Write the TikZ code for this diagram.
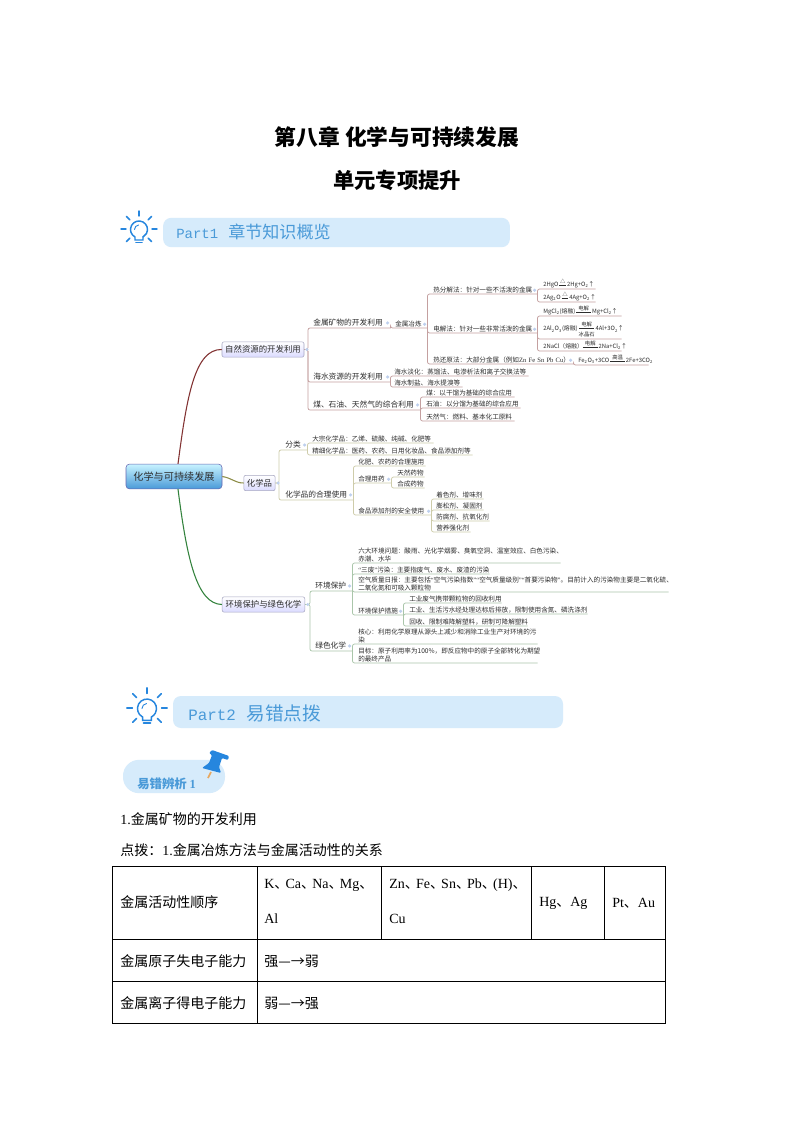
\documentclass[tikz,border=0pt]{standalone}
\usepackage{amsmath}
\usepackage{fontspec}
\setmainfont{Noto Sans CJK SC}
\newfontfamily\latinfont{Liberation Serif}
\newfontfamily\monofont{Liberation Mono}
\usepackage{tikz}
\definecolor{bannerblue}{RGB}{214, 235, 251}
\definecolor{accentblue}{RGB}{74, 154, 216}
\definecolor{iconblue}{RGB}{38, 134, 222}
\definecolor{pinorange}{RGB}{232, 168, 96}
\definecolor{darktext}{RGB}{45, 45, 45}
\definecolor{dotblue}{RGB}{190, 208, 238}
\definecolor{lineroot}{RGB}{130, 50, 50}
\definecolor{lineolive}{RGB}{140, 140, 70}
\definecolor{linegreen}{RGB}{50, 130, 60}
\definecolor{wirered}{RGB}{196, 160, 160}
\definecolor{wireolive}{RGB}{206, 204, 170}
\definecolor{wiregreen}{RGB}{170, 198, 170}
\newcommand{\leaffont}{\fontsize{4.95}{6}\selectfont}
\newcommand{\eqfont}{\fontsize{4.4}{5.4}\selectfont}
\newcommand{\midfont}{\fontsize{5.8}{7}\selectfont}
\newcommand{\smallfont}{\fontsize{4}{4.4}\selectfont}
\newcommand{\la}[1]{{\latinfont #1}}
\newcommand{\dun}{、\hspace{-.2em}}
% reaction condition over a bar, and over and under a bar
\newcommand{\condup}[2]{$\overset{\hbox{\smallfont #2}}{\rule[.2ex]{#1}{.6pt}}$}
\newcommand{\cond}[3]{$\underset{\hbox{\smallfont #3}}{\overset{\hbox{\smallfont #2}}{\rule[.6ex]{#1}{.6pt}}}$}
% light bulb icon
\newcommand{\bulb}[3]{
	\begin{scope}[shift={(#1,#2)},scale=#3,iconblue,line width=1.1pt,line cap=round]
		\foreach \a in {0,45,135,180,225,270,315} {
			\draw (\a:13) -- (\a:18);
		}
		\draw (-4,8) arc (118:422:8.5) -- (4,11) -- (-4,11) -- cycle;
		\draw[line width=.7pt] (-4.5,0.5) arc (180:265:4.5);
		\draw[line width=1.4pt] (-3,13.5) -- (3,13.5);
	\end{scope}
}
\tikzset{
	leaf/.style={anchor=south west, inner xsep=0pt, inner ysep=.3pt, text width=#1*.75pt, align=left, font=\leaffont, text=darktext},
	midleaf/.style={leaf=#1, font=\midfont, inner ysep=.9pt},
	eqleaf/.style={leaf=#1, font=\eqfont, inner ysep=.9pt},
	rootbox/.style={draw=black!50!blue!60, rounded corners=2.5pt, top color=blue!22!cyan!22, bottom color=accentblue, font=\fontsize{7.6}{9}\selectfont, text=darktext, minimum width=72pt, minimum height=18.5pt, inner sep=0pt},
	branchbox/.style={draw=blue!30!black!35, rounded corners=1.5pt, top color=white, bottom color=blue!14, font=\fontsize{6.3}{7}\selectfont, text=darktext, minimum height=11.5pt, inner sep=0pt},
	bannerbox/.style={fill=bannerblue, rounded corners=6pt, inner sep=0pt},
	bodytext/.style={anchor=west, inner sep=0pt, font=\fontsize{10.5}{12}\selectfont, text=black},
	redwire/.style={draw=wirered, line width=.55pt, rounded corners=1.5pt},
	olivewire/.style={draw=wireolive, line width=.55pt, rounded corners=1.5pt},
	greenwire/.style={draw=wiregreen, line width=.55pt, rounded corners=1.5pt}
}

\begin{document}
\begin{tikzpicture}[x=.75pt,y=-.75pt]
	\useasboundingbox[fill=white] (0,0) rectangle (794,1123);

	% Titulos
	\node[font=\fontsize{16.3}{18}\bfseries\selectfont, text=black] (titulo) at (397,137) {第八章 化学与可持续发展};
	\node[font=\fontsize{16}{18}\bfseries\selectfont, text=black] (subtitulo) at (397,180) {单元专项提升};

	% Part 1
	\bulb{139}{229}{1}
	\node[bannerbox, minimum width=260pt, minimum height=22pt] (bannerone) at (336.5,232.5) {};
	\node[anchor=west, inner sep=0pt, text=accentblue, font=\fontsize{12.8}{14}\selectfont] (partone) at (176,232) {{\fontsize{10.5}{12}\monofont Part1}\hspace{7.5pt}章节知识概览};

	% Mapa mental
	\node[rootbox] (raiz) at (174,476.5) {化学与可持续发展};
	\node[branchbox, minimum width=61.5pt] (ziran) at (263,349.5) {自然资源的开发利用};
	\node[branchbox, minimum width=23.5pt] (huaxuepin) at (259.5,483) {化学品};
	\node[branchbox, minimum width=62pt] (huanjing) at (263.5,604.5) {环境保护与绿色化学};
	\draw[lineroot, line width=.8pt] (raiz.north) ++(4,0) .. controls (187,395) and (195,349) .. (ziran.west);
	\draw[lineolive, line width=.8pt] (raiz.east) .. controls (232,478) and (235,483) .. (huaxuepin.west);
	\draw[linegreen, line width=.8pt] (raiz.south) ++(4,0) .. controls (187,560) and (197,604) .. (huanjing.west);
	\coordinate (ziranout) at (308,349.5);
	\coordinate (huaxueout) at (279,483);
	\coordinate (huanjingout) at (310,604.5);

	% Rama 1
	\node[midleaf=77] (jinshu) at (313,328) {金属矿物的开发利用};
	\node[midleaf=77] (haishui) at (313,382) {海水资源的开发利用};
	\node[midleaf=107] (zonghe) at (313,410) {煤、石油、天然气的综合利用};
	\node[leaf=32] (yelian) at (395,328) {金属冶炼};
	\node[leaf=104] (refen) at (433,294) {热分解法：针对一些不活泼的金属};
	\node[leaf=104] (dianjie) at (433,333) {电解法：针对一些非常活泼的金属};
	\node[leaf=140] (huanyuan) at (433,364) {\mbox{热还原法：大部分金属（例如\la{Zn~Fe~Sn~Pb~Cu}）\hspace{-.5em}}};
	\node[eqleaf=52] (eqhg) at (543,289) {2HgO\,\condup{5pt}{△}\,2Hg+O\textsubscript{2}↑};
	\node[eqleaf=52] (eqag) at (543,302) {2Ag\textsubscript{2}O\,\condup{5pt}{△}\,4Ag+O\textsubscript{2}↑};
	\node[eqleaf=78] (eqmg) at (543,316) {MgCl\textsubscript{2}(熔融)\,\condup{11pt}{电解}\,Mg+Cl\textsubscript{2}↑};
	\node[eqleaf=78] (eqal) at (543,339) {2Al\textsubscript{2}O\textsubscript{3}(熔融)\,\cond{11pt}{电解}{冰晶石}\,4Al+3O\textsubscript{2}↑};
	\node[eqleaf=78] (eqna) at (543,351) {2NaCl（熔融）\condup{11pt}{电解}\,2Na+Cl\textsubscript{2}↑};
	\node[eqleaf=70] (eqfe) at (578,365) {Fe\textsubscript{2}O\textsubscript{3}+3CO\,\condup{11pt}{高温}\,2Fe+3CO\textsubscript{2}};
	\node[leaf=134] (danhua) at (394,376) {海水淡化：蒸馏法、电渗析法和离子交换法等};
	\node[leaf=68] (zhiyan) at (394,387) {海水制盐、海水提溴等};
	\node[leaf=88] (mei) at (426,397) {煤：以干馏为基础的综合应用};
	\node[leaf=94] (shiyou) at (426,408) {石油：以分馏为基础的综合应用};
	\node[leaf=88] (tianran) at (426,421) {天然气：燃料、基本化工原料};
	\foreach \hijo in {jinshu,haishui,zonghe} {
		\draw[redwire] (ziran.east) -- (ziranout) |- (\hijo.south east);
	}
	\foreach \padre/\hijo in {jinshu/yelian,yelian/refen,yelian/dianjie,yelian/huanyuan,refen/eqhg,refen/eqag,dianjie/eqmg,dianjie/eqal,dianjie/eqna,huanyuan/eqfe,haishui/danhua,haishui/zhiyan,zonghe/mei,zonghe/shiyou,zonghe/tianran} {
		\draw[redwire] (\padre.south east) |- (\hijo.south east);
	}

	% Rama 2
	\node[midleaf=22] (fenlei) at (285,450) {分类};
	\node[midleaf=68] (heli) at (285,500) {化学品的合理使用};
	\node[leaf=121] (dazong) at (312,443) {大宗化学品：乙烯、硫酸、纯碱、化肥等};
	\node[leaf=160] (jingxi) at (312,455) {精细化学品：医药、农药、日用化妆品、食品添加剂等};
	\node[leaf=67] (huafei) at (358,466) {化肥、农药的合理施用};
	\node[leaf=33] (yongyao) at (358,483) {合理用药};
	\node[leaf=73] (shipin) at (358,515) {食品添加剂的安全使用};
	\node[leaf=27] (tianyao) at (397,477) {天然药物};
	\node[leaf=27] (heyao) at (397,488) {合成药物};
	\node[leaf=47] (zhuose) at (436,499) {着色剂、增味剂};
	\node[leaf=47] (pengsong) at (436,510) {膨松剂、凝固剂};
	\node[leaf=53] (fangfu) at (436,521) {防腐剂、抗氧化剂};
	\node[leaf=34] (yingyang) at (436,532) {营养强化剂};
	\foreach \hijo in {fenlei,heli} {
		\draw[olivewire] (huaxuepin.east) -- (huaxueout) |- (\hijo.south east);
	}
	\foreach \padre/\hijo in {fenlei/dazong,fenlei/jingxi,heli/huafei,heli/yongyao,heli/shipin,yongyao/tianyao,yongyao/heyao,shipin/zhuose,shipin/pengsong,shipin/fangfu,shipin/yingyang} {
		\draw[olivewire] (\padre.south east) |- (\hijo.south east);
	}

	% Rama 3
	\node[midleaf=37] (baohu) at (315,591) {环境保护};
	\node[midleaf=37] (lvse) at (315,651) {绿色化学};
	\node[leaf=202] (liuda) at (358,563) {六大环境问题：酸雨、光化学烟雾、臭氧空洞、温室效应、白色污染、\\赤潮、水华};
	\node[leaf=131] (sanfei) at (358,574) {\la{“}三废\la{”}污染：主要指废气、废水、废渣的污染};
	\node[leaf=310] (kongqi) at (358,592) {空气质量日报：主要包括\la{“}空气污染指数\la{”“}空气质量级别\la{”“}首要污染物\la{”}。目前计入的污染物主要是二氧化硫、\\二氧化氮和可吸入颗粒物};
	\node[leaf=45] (cuoshi) at (358,615) {环境保护措施};
	\node[leaf=92] (feiqi) at (409,603) {工业废气携带颗粒物的回收利用};
	\node[leaf=178] (wushui) at (409,614) {工业、生活污水经处理达标后排放，限制使用含氮、磷洗涤剂};
	\node[leaf=118] (huishou) at (409,626) {回收、限制难降解塑料，研制可降解塑料};
	\node[leaf=179] (hexin) at (358,644) {核心：利用化学原理从源头上减少和消除工业生产对环境的污\\染};
	\node[leaf=179] (mubiao) at (358,663) {目标：原子利用率为100\%，即反应物中的原子全部转化为期望\\的最终产品};
	\foreach \hijo in {baohu,lvse} {
		\draw[greenwire] (huanjing.east) -- (huanjingout) |- (\hijo.south east);
	}
	\foreach \padre/\hijo in {baohu/liuda,baohu/sanfei,baohu/kongqi,baohu/cuoshi,cuoshi/feiqi,cuoshi/wushui,cuoshi/huishou,lvse/hexin,lvse/mubiao} {
		\draw[greenwire] (\padre.south east) |- (\hijo.south east);
	}

	% Puntos de plegado
	\foreach \padre in {jinshu,yelian,refen,dianjie,huanyuan,haishui,zonghe,fenlei,heli,yongyao,shipin,baohu,lvse,cuoshi} {
		\fill[dotblue] ([xshift=-2.2]\padre.east) circle (1.7);
	}
	\foreach \padre in {ziran,huaxuepin,huanjing} {
		\fill[dotblue] ([xshift=2]\padre.east) circle (1.7);
	}

	% Part 2
	\bulb{147}{708}{1.12}
	\node[bannerbox, minimum width=292.5pt, minimum height=24pt] (bannertwo) at (368,712) {};
	\node[anchor=west, inner sep=0pt, text=accentblue, font=\fontsize{14}{16}\selectfont] (parttwo) at (188,713) {{\fontsize{11.9}{14}\monofont Part2}\hspace{8pt}易错点拨};

	% Etiqueta con chincheta
	\node[fill=bannerblue, rounded corners=12pt, minimum width=76.5pt, minimum height=25pt, inner sep=0pt] (etiqueta) at (174,776.5) {};
	\node[anchor=west, inner sep=0pt, text=accentblue, font=\fontsize{9.3}{10}\bfseries\selectfont] (etiquetatexto) at (137,784) {易错辨析 \la{1}};
	\draw[pinorange, line width=1.3pt] (211,772) -- (208,778);
	\fill[iconblue, rounded corners=.8pt] (209,753) -- (212,750) -- (229,756) -- (228,760) -- (222,758) -- (219,767) -- (221,773) -- (202,768) -- (209,763) -- (212,755) -- cycle;

	% Texto
	\node[bodytext] (lineauno) at (120,819) {\la{1.}金属矿物的开发利用};
	\node[bodytext] (lineados) at (120,850) {点拨：\la{1.}金属冶炼方法与金属活动性的关系};

	% Tabla
	\draw[black, line width=.7pt] (112,866) rectangle (665,1023);
	\draw[black, line width=.7pt] (112,939) -- (665,939);
	\draw[black, line width=.7pt] (112,981) -- (665,981);
	\draw[black, line width=.7pt] (257,866) -- (257,1023);
	\foreach \x in {381,531,604} {
		\draw[black, line width=.7pt] (\x,866) -- (\x,939);
	}
	\node[bodytext] (celdaa) at (120,902) {金属活动性顺序};
	\node[bodytext] (celdab) at (264,885) {\la{K}\dun\la{Ca}\dun\la{Na}\dun\la{Mg}\dun};
	\node[bodytext] (celdac) at (264,919) {\la{Al}};
	\node[bodytext] (celdad) at (389,885) {\la{Zn}\dun\la{Fe}\dun\la{Sn}\dun\la{Pb}\dun\la{(H)}\dun};
	\node[bodytext] (celdae) at (389,919) {\la{Cu}};
	\node[bodytext] (celdaf) at (539,903) {\la{Hg}、\la{Ag}};
	\node[bodytext] (celdag) at (612,903) {\la{Pt}、\la{Au}};
	\node[bodytext] (celdah) at (120,961) {金属原子失电子能力};
	\node[bodytext] (celdai) at (264,961) {强—→弱};
	\node[bodytext] (celdaj) at (120,1003) {金属离子得电子能力};
	\node[bodytext] (celdak) at (264,1003) {弱—→强};
\end{tikzpicture}
\end{document}
